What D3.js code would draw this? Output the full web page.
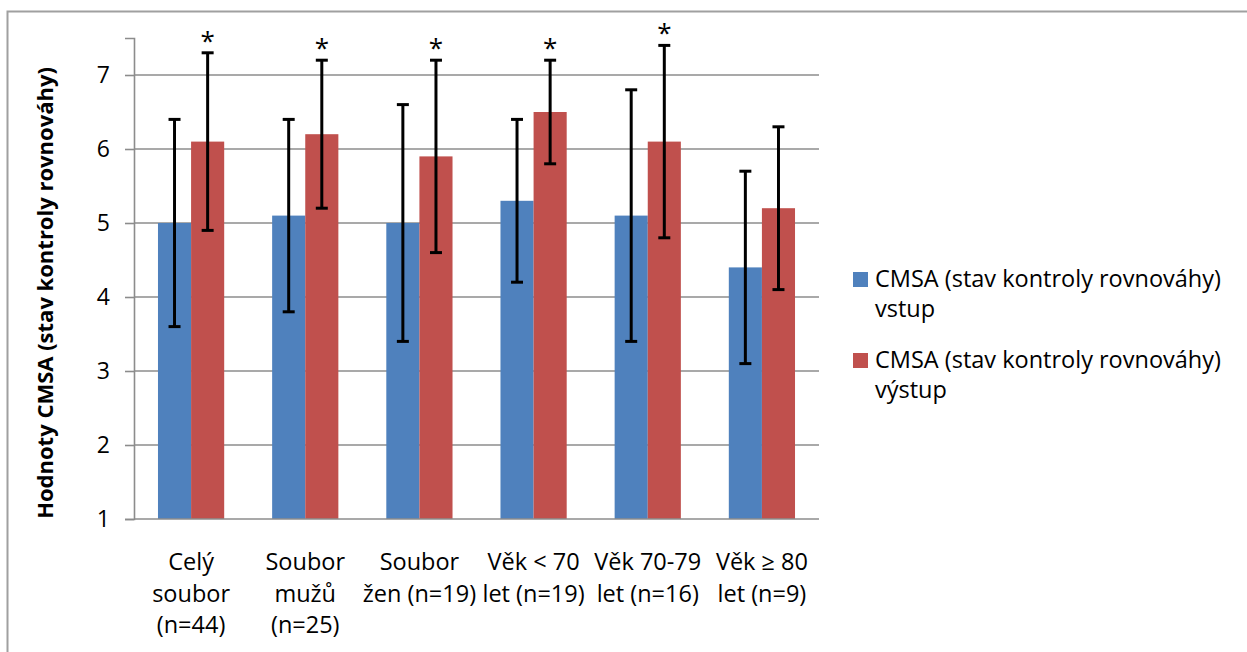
<!DOCTYPE html>
<html>
<head>
<meta charset="utf-8">
<script src="https://cdn.jsdelivr.net/npm/d3@7/dist/d3.min.js"></script>
<style>
  html, body { margin: 0; padding: 0; background: #fff; }
  svg { display: block; }
  text { font-family: "Open Sans", Lato, sans-serif; fill: #000; }
</style>
</head>
<body>
<svg id="chart" width="1247" height="652"></svg>
<script>
// Category labels, one array entry per text line
const categories = [
  ["Celý", "soubor", "(n=44)"],
  ["Soubor", "mužů", "(n=25)"],
  ["Soubor", "žen (n=19)"],
  ["Věk < 70", "let (n=19)"],
  ["Věk 70-79", "let (n=16)"],
  ["Věk ≥ 80", "let (n=9)"]
];
const seriesNames = [
  ["CMSA (stav kontroly rovnováhy)", "vstup"],
  ["CMSA (stav kontroly rovnováhy)", "výstup"]
];
// Means and standard deviations of CMSA at entry and at exit
const entryMean = [5.0, 5.1, 5.0, 5.3, 5.1, 4.4];
const entrySD   = [1.4, 1.3, 1.6, 1.1, 1.7, 1.3];
const exitMean  = [6.1, 6.2, 5.9, 6.5, 6.1, 5.2];
const exitSD    = [1.2, 1.0, 1.3, 0.7, 1.3, 1.1];
// Significant change between entry and exit
const significant = [true, true, true, true, true, false];
const yTicks = [1, 2, 3, 4, 5, 6, 7];
const yTitle = "Hodnoty CMSA (stav kontroly rovnováhy)";

const colors = ["#4F81BD", "#C0504D"];
const font = "'Open Sans', Lato, sans-serif";
const labelSize = "23.5px";
const svg = d3.select("#chart");

// Outer chart frame
svg.append("rect")
  .attr("x", 7.5).attr("y", 11.5)
  .attr("width", 1300).attr("height", 700)
  .attr("fill", "none").attr("stroke", "#a0a0a0").attr("stroke-width", 2);

const plot = { left: 134, right: 819, top: 38, bottom: 519 };

const x = d3.scaleBand()
  .domain(d3.range(categories.length))
  .range([plot.left, plot.right])
  .paddingInner(0.42).paddingOuter(0.21);
const xs = d3.scaleBand().domain([0, 1]).range([0, x.bandwidth()]);
const y = d3.scaleLinear().domain([1, 7.5]).range([plot.bottom, plot.top]);

// Horizontal gridlines
svg.append("g")
  .selectAll("line")
  .data(yTicks.slice(1))
  .join("line")
  .attr("x1", plot.left).attr("x2", plot.right)
  .attr("y1", d => y(d)).attr("y2", d => y(d))
  .attr("stroke", "#8c8c8c").attr("stroke-width", 1.6);

// Y axis
const yAxis = svg.append("g")
  .attr("transform", `translate(${plot.left},0)`)
  .call(d3.axisLeft(y).tickValues(yTicks).tickSize(9).tickPadding(15).tickFormat(d3.format("d")));
yAxis.select(".domain").attr("stroke", "#8c8c8c").attr("stroke-width", 1.6);
yAxis.selectAll(".tick line").attr("stroke", "#8c8c8c").attr("stroke-width", 1.6);
yAxis.selectAll(".tick text")
  .style("font-family", font)
  .style("font-size", "23px").attr("fill", "#000");

const series = [
  { mean: entryMean, sd: entrySD },
  { mean: exitMean, sd: exitSD }
];

// Bars
series.forEach((s, si) => {
  svg.append("g")
    .selectAll("rect")
    .data(s.mean)
    .join("rect")
    .attr("x", (d, i) => x(i) + xs(si))
    .attr("width", xs.bandwidth())
    .attr("y", d => y(d))
    .attr("height", d => y(1) - y(d))
    .attr("fill", colors[si]);
});

// X axis baseline
svg.append("line")
  .attr("x1", plot.left).attr("x2", plot.right)
  .attr("y1", y(1)).attr("y2", y(1))
  .attr("stroke", "#8c8c8c").attr("stroke-width", 1.6);

// Error bars
series.forEach((s, si) => {
  const g = svg.append("g").attr("stroke", "#000").attr("stroke-width", 3);
  s.mean.forEach((m, i) => {
    const cx = x(i) + xs(si) + xs.bandwidth() / 2;
    const lo = y(m - s.sd[i]), hi = y(m + s.sd[i]);
    g.append("line").attr("x1", cx).attr("x2", cx).attr("y1", lo).attr("y2", hi);
    g.append("line").attr("x1", cx - 6).attr("x2", cx + 6).attr("y1", lo).attr("y2", lo);
    g.append("line").attr("x1", cx - 6).attr("x2", cx + 6).attr("y1", hi).attr("y2", hi);
  });
});

// Significance markers above the exit error bars
svg.append("g")
  .selectAll("text")
  .data(exitMean.map((m, i) => ({ m, i })).filter(d => significant[d.i]))
  .join("text")
  .attr("x", d => x(d.i) + xs(1) + xs.bandwidth() / 2)
  .attr("y", d => y(d.m + exitSD[d.i]) - 3)
  .attr("text-anchor", "middle")
  .style("font-size", "26px")
  .text("*");

// Category labels
const catG = svg.append("g");
categories.forEach((lines, i) => {
  const t = catG.append("text")
    .attr("x", x(i) + x.bandwidth() / 2)
    .attr("y", 570)
    .attr("text-anchor", "middle")
    .style("font-size", labelSize);
  lines.forEach((ln, k) => {
    t.append("tspan")
      .attr("x", x(i) + x.bandwidth() / 2)
      .attr("dy", k === 0 ? 0 : 31.5)
      .text(ln);
  });
});

// Y axis title
svg.append("text")
  .attr("transform", `translate(53,293) rotate(-90)`)
  .attr("text-anchor", "middle")
  .style("font-size", "22px")
  .style("font-weight", "bold")
  .text(yTitle);

// Legend
const legend = svg.append("g");
seriesNames.forEach((lines, si) => {
  const top = 272 + si * 81;
  legend.append("rect")
    .attr("x", 853).attr("y", top)
    .attr("width", 15).attr("height", 15)
    .attr("fill", colors[si]);
  const t = legend.append("text")
    .attr("x", 875).attr("y", top + 15)
    .style("font-size", labelSize);
  lines.forEach((ln, k) => {
    t.append("tspan").attr("x", 875).attr("dy", k === 0 ? 0 : 30).text(ln);
  });
});
</script>
</body>
</html>
